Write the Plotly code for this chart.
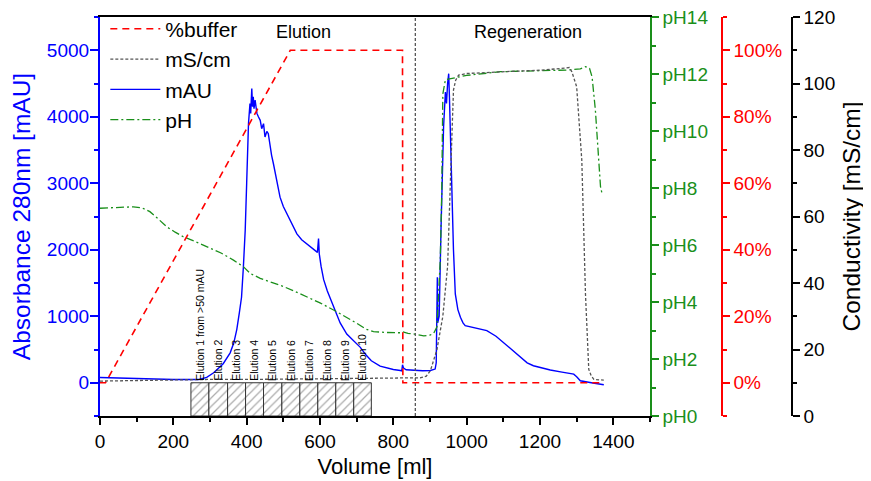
import plotly.graph_objects as go

# ---------------- data ----------------
mau_volume = [0, 20, 100, 200, 250, 270, 291, 310, 336, 355, 365, 373, 380, 386, 391, 396, 400, 403,
              405, 409, 411, 414, 416, 418, 420, 423, 425, 428, 432, 437, 441, 446, 450, 455, 459, 464,
              468, 473, 482, 491, 500, 510, 523, 537, 550, 564, 576, 587, 593, 596, 598, 603, 610, 620,
              637, 655, 673, 690, 710, 725, 740, 764, 782, 800, 819, 823, 825, 828, 835, 860, 880, 901,
              910, 914, 917, 920, 921, 925, 930, 937, 942, 945, 948, 951, 953, 955, 959, 964, 969, 976,
              983, 990, 996, 1020, 1055, 1080, 1100, 1120, 1146, 1165, 1182, 1200, 1228, 1260, 1292,
              1300, 1310, 1340, 1374]
mau_values = [80, 75, 65, 50, 45, 50, 80, 150, 286, 450, 600, 800, 1050, 1285, 1736, 2290, 3000, 3600,
              3900, 4197, 4050, 4423, 4150, 4300, 4120, 4250, 4150, 4050, 4000, 3946, 3820, 3896, 3695,
              3780, 3745, 3544, 3420, 3293, 3042, 2791, 2650, 2540, 2380, 2239, 2150, 2088, 2030, 1988,
              1960, 2170, 1940, 1750, 1550, 1380, 1134, 900, 733, 640, 532, 420, 330, 250, 220, 200, 185,
              180, 270, 220, 195, 185, 180, 185, 200, 206, 300, 1586, 900, 1000, 2300, 3845, 4372, 4200,
              4500, 4648, 4300, 3845, 2841, 2000, 1335, 1100, 984, 900, 858, 830, 783, 700, 607, 500,
              381, 300, 256, 230, 191, 160, 130, 90, 30, 0, -30]

ph_volume = [0, 50, 91, 115, 136, 160, 182, 205, 227, 260, 291, 330, 364, 391, 410, 437, 470, 501, 530,
             564, 600, 637, 670, 701, 725, 746, 780, 819, 826, 840, 855, 873, 883, 900, 910, 919, 928,
             932, 935, 942, 964, 1000, 1092, 1200, 1274, 1310, 1324, 1335, 1342, 1351, 1358, 1365, 1369]
ph_values = [7.29, 7.31, 7.34, 7.30, 7.17, 6.90, 6.64, 6.45, 6.29, 6.12, 5.94, 5.72, 5.47, 5.24, 5.00,
             4.83, 4.68, 4.54, 4.38, 4.19, 3.97, 3.72, 3.48, 3.25, 3.05, 2.96, 2.93, 2.92, 2.95, 2.90,
             2.88, 2.84, 2.81, 2.84, 2.90, 3.13, 5.47, 7.81, 11.3, 11.8, 11.85, 11.95, 12.08, 12.12,
             12.14, 12.18, 12.26, 12.2, 11.9, 10.74, 9.5, 8.05, 7.81]

cond_volume = [0, 100, 200, 300, 400, 500, 600, 700, 800, 873, 890, 901, 919, 935, 948, 955, 960, 964,
               970, 978, 1000, 1092, 1200, 1255, 1280, 1287, 1300, 1314, 1324, 1333, 1340, 1347, 1374]
cond_values = [10.5, 10.7, 10.8, 11.0, 11.0, 11.0, 11.2, 11.3, 11.5, 11.5, 12.0, 13.6, 20.0, 30.0, 45.0,
               65.0, 85.0, 98.0, 101.0, 102.5, 103.0, 103.5, 104.0, 104.5, 104.8, 103.5, 99.0, 76.9,
               36.7, 14.0, 12.0, 11.0, 10.8]

buffer_volume = [0, 15, 519, 825, 826, 1375]
buffer_percent = [0, 0, 100, 100, 0, 0]

separator_volume = 860

fraction_edges = [248, 297, 348, 397, 446, 496, 545, 594, 643, 692, 740]
fraction_labels = ["Elution 1 from >50 mAU", "Elution 2", "Elution 3", "Elution 4", "Elution 5",
                   "Elution 6", "Elution 7", "Elution 8", "Elution 9", "Elution 10"]
fraction_bottom = -500
fraction_top = 0

ph_ticks = [0, 2, 4, 6, 8, 10, 12, 14]
ph_tick_labels = ["pH0", "pH2", "pH4", "pH6", "pH8", "pH10", "pH12", "pH14"]
pct_ticks = [0, 20, 40, 60, 80, 100]
pct_tick_labels = ["0%", "20%", "40%", "60%", "80%", "100%"]

# ---------------- figure ----------------
FONT = "Liberation Sans, Arial, sans-serif"
BLUE = "#0000ff"
GREEN = "#1a8f1a"
RED = "#ff0000"
GRAY = "#555555"

fig = go.Figure()

centers = [(a + b) / 2 for a, b in zip(fraction_edges[:-1], fraction_edges[1:])]
widths = [b - a for a, b in zip(fraction_edges[:-1], fraction_edges[1:])]
fig.add_trace(go.Bar(
    x=centers, y=[fraction_top - fraction_bottom] * len(centers), base=fraction_bottom,
    width=widths, showlegend=False, hoverinfo="skip",
    marker=dict(color="white", line=dict(color="#333333", width=1),
                pattern=dict(shape="/", fgcolor="#555555", bgcolor="white", size=6, solidity=0.2)),
    yaxis="y"))

fig.add_trace(go.Scatter(x=cond_volume, y=cond_values, mode="lines", name="mS/cm", legendrank=2,
                         line=dict(color=GRAY, width=1.3, dash="3px,2px"), yaxis="y4"))
fig.add_trace(go.Scatter(x=ph_volume, y=ph_values, mode="lines", name="pH", legendrank=4,
                         line=dict(color=GREEN, width=1.3, dash="8px,3px,2px,3px"), yaxis="y2"))
fig.add_trace(go.Scatter(x=mau_volume, y=mau_values, mode="lines", name="mAU", legendrank=3,
                         line=dict(color=BLUE, width=1.4), yaxis="y"))
fig.add_trace(go.Scatter(x=buffer_volume, y=buffer_percent, mode="lines", name="%buffer", legendrank=1,
                         line=dict(color=RED, width=1.6, dash="7px,5px"), yaxis="y3"))

fig.add_vline(x=separator_volume, line=dict(color=GRAY, width=1.3, dash="3px,2px"))

for c, lab in zip(centers, fraction_labels):
    fig.add_annotation(x=c, y=fraction_top, xref="x", yref="y", text=lab, textangle=-90,
                       showarrow=False, xanchor="center", yanchor="bottom",
                       font=dict(size=10.5, color="black", family=FONT))

fig.add_annotation(x=554, y=0.963, xref="x", yref="paper", text="Elution", showarrow=False,
                   xanchor="center", yanchor="middle",
                   font=dict(size=18, color="black", family=FONT))
fig.add_annotation(x=1168, y=0.963, xref="x", yref="paper", text="Regeneration", showarrow=False,
                   xanchor="center", yanchor="middle",
                   font=dict(size=18, color="black", family=FONT))

dom_end = 550 / 761
fig.update_layout(
    width=863, height=473,
    margin=dict(l=92, r=10, t=9, b=65, autoexpand=False),
    paper_bgcolor="white", plot_bgcolor="white",
    font=dict(family=FONT, color="black"),
    barmode="overlay",
    legend=dict(x=0.007, y=1.021, xanchor="left", yanchor="top", bgcolor="rgba(0,0,0,0)",
                font=dict(size=21, family=FONT, color="black"), itemwidth=50,
                tracegroupgap=0, traceorder="normal"),
    xaxis=dict(domain=[0, dom_end], range=[0, 1500], tick0=0, dtick=200, showgrid=False, zeroline=False,
               showline=True, linecolor="black", linewidth=1.5, mirror=True,
               ticks="outside", ticklen=7, tickwidth=1.5, tickcolor="black", ticklabeloverflow="allow",
               minor=dict(dtick=100, ticks="outside", ticklen=4, tickwidth=1.5, tickcolor="black"),
               tickfont=dict(size=19, color="black"),
               title=dict(text="Volume [ml]", font=dict(size=22, color="black"), standoff=8),
               automargin=False),
    yaxis=dict(range=[-500, 5500], tick0=0, dtick=1000, showgrid=False, zeroline=False,
               showline=True, linecolor=BLUE, linewidth=2.2, ticklabeloverflow="allow",
               ticks="outside", ticklen=8, tickwidth=2, tickcolor=BLUE, ticklabelstandoff=-3,
               minor=dict(dtick=500, ticks="outside", ticklen=4, tickwidth=2, tickcolor=BLUE),
               tickfont=dict(size=19, color=BLUE),
               title=dict(text="Absorbance 280nm [mAU]", font=dict(size=24.5, color=BLUE), standoff=10),
               automargin=False),
    yaxis2=dict(overlaying="y", side="right", anchor="x", range=[0, 14],
                tickvals=ph_ticks, ticktext=ph_tick_labels, showgrid=False, zeroline=False,
                showline=True, linecolor=GREEN, linewidth=1.5, ticklabeloverflow="allow",
                ticks="outside", ticklen=7, tickwidth=1.5, tickcolor=GREEN,
                minor=dict(dtick=1, ticks="outside", ticklen=4, tickwidth=1.5, tickcolor=GREEN),
                tickfont=dict(size=19, color=GREEN), automargin=False),
    yaxis3=dict(overlaying="y", side="right", anchor="free", position=(722 - 100) / 761,
                range=[-10, 110], tickvals=pct_ticks, ticktext=pct_tick_labels,
                showgrid=False, zeroline=False, ticklabeloverflow="allow",
                showline=True, linecolor=RED, linewidth=1.5,
                ticks="outside", ticklen=7, tickwidth=1.5, tickcolor=RED,
                minor=dict(dtick=10, ticks="outside", ticklen=4, tickwidth=1.5, tickcolor=RED),
                tickfont=dict(size=19, color=RED), automargin=False),
    yaxis4=dict(overlaying="y", side="right", anchor="free", position=(792 - 100) / 761,
                range=[0, 120], tick0=0, dtick=20, showgrid=False, zeroline=False,
                showline=True, linecolor="black", linewidth=1.5, ticklabeloverflow="allow",
                ticks="outside", ticklen=7, tickwidth=1.5, tickcolor="black",
                minor=dict(dtick=10, ticks="outside", ticklen=4, tickwidth=1.5, tickcolor="black"),
                tickfont=dict(size=19, color="black"),
                title=dict(text="Conductivity [mS/cm]", font=dict(size=24.5, color="black"), standoff=8),
                automargin=False),
)

fig.write_html("out.html")
